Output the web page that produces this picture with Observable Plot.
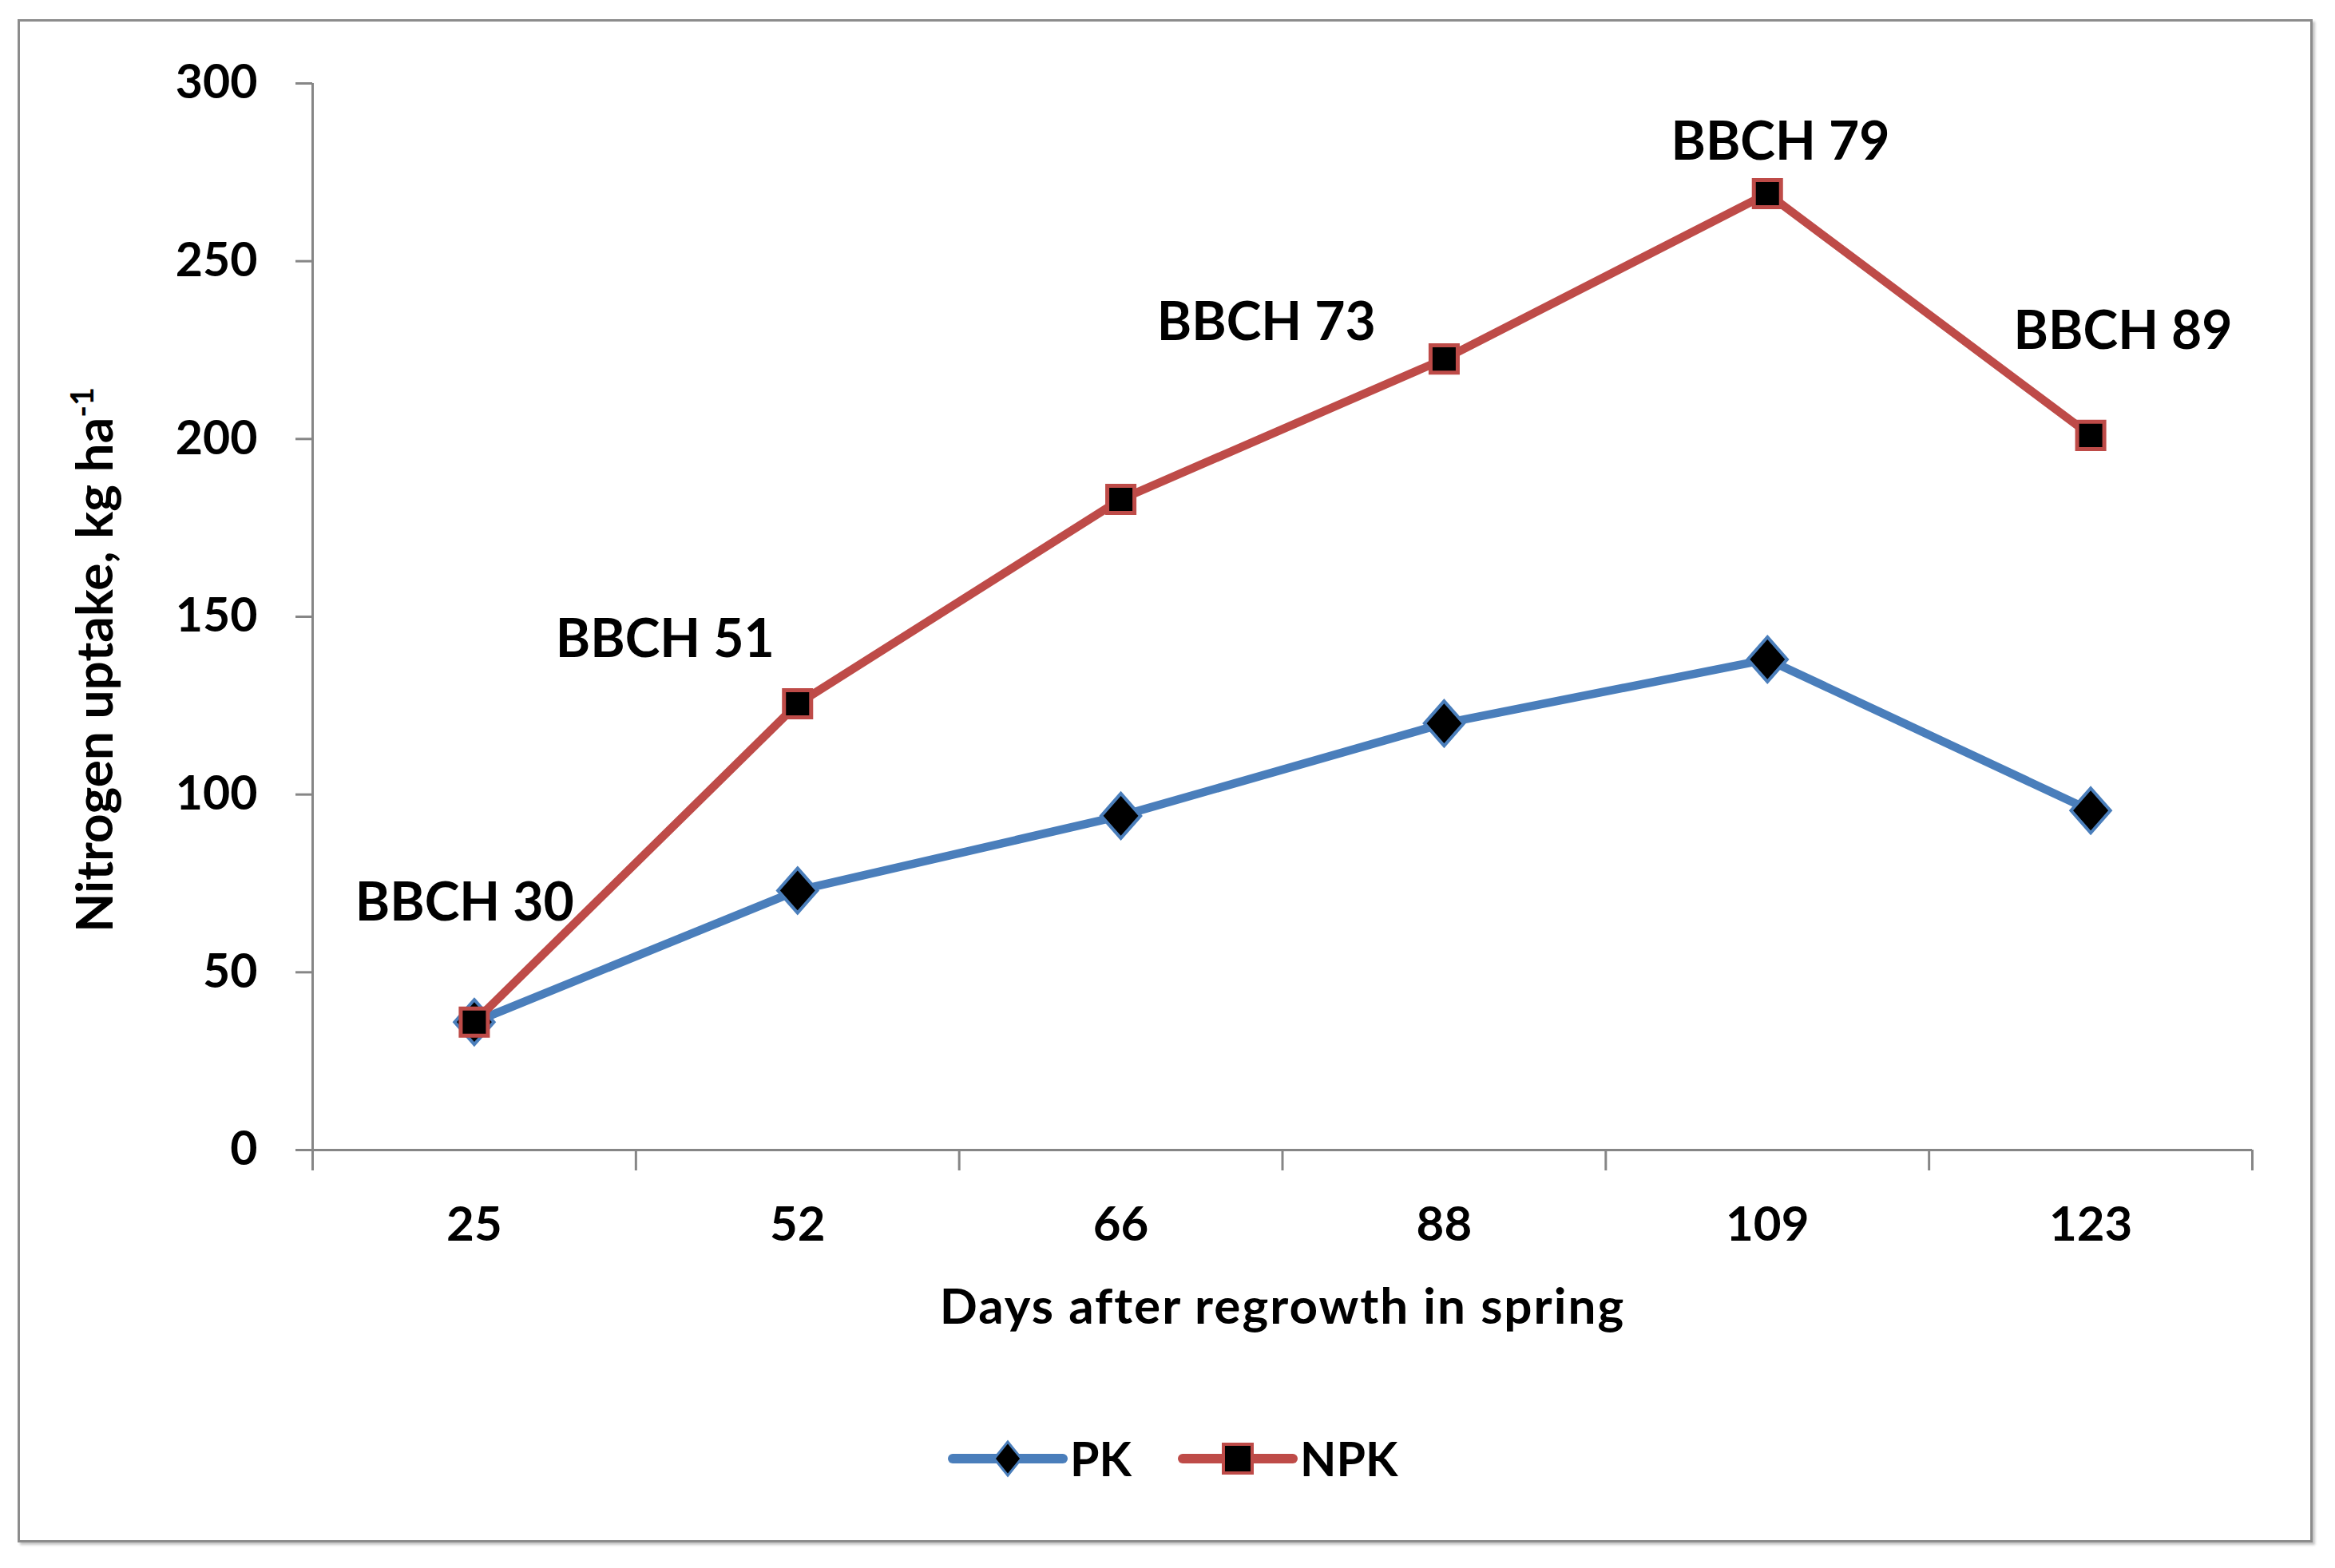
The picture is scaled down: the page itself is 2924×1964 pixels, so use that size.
<!DOCTYPE html>
<html><head><meta charset="utf-8">
<script src="https://cdn.jsdelivr.net/npm/d3@7"></script>
<script src="https://cdn.jsdelivr.net/npm/@observablehq/plot@0.6"></script>
<style>
body{margin:0;background:#fff;}
#wrap{position:relative;width:2924px;height:1964px;overflow:hidden;background:#fff;font-family:Lato,"Open Sans",sans-serif;font-weight:bold;}
#frame{position:absolute;left:22px;top:24px;width:2874px;height:1908px;border:3px solid #8c8c8c;box-sizing:border-box;box-shadow:3px 3px 3px #c4c4c4;}
#chart{position:absolute;left:0;top:0;}
#legend{position:absolute;left:1187px;top:1797px;height:60px;display:flex;align-items:center;font-size:59px;color:#000;}
#legend .item{display:flex;align-items:center;}
#legend .lab{margin-left:3px;line-height:60px;}
</style></head><body>
<div id="wrap">
  <div id="frame"></div>
  <div id="chart"></div>
  <div id="legend"></div>
</div>
<script>
// ---- data ----
const days = ["25", "52", "66", "88", "109", "123"];
const pk = [36, 73, 94, 120, 138, 95.5];
const npk = [36, 125.5, 183, 222.5, 269, 201];
const yTicks = [0, 50, 100, 150, 200, 250, 300];
const stages = ["BBCH 30", "BBCH 51", "BBCH 73", "BBCH 79", "BBCH 89"];
const stageX = [-0.03, 0.59, 2.45, 4.04, 5.10];   // category-index units
const stageY = [69.4, 143.5, 232.5, 283.4, 230];  // value units
const seriesNames = ["PK", "NPK"];
const xTitle = "Days after regrowth in spring";
const yTitle = "Nitrogen uptake, kg ha";
const yTitleSup = "-1";

// ---- derived tables ----
const rows = days.map((d, i) => ({i, day: d, pk: pk[i], npk: npk[i]}));
const stageRows = stages.map((s, k) => ({s, x: stageX[k], y: stageY[k]}));
const idx = d3.range(days.length);
const bounds = d3.range(days.length + 1).map(k => k - 0.5);

const blue = "#4A7EBB", red = "#BE4B48", axisGray = "#868686";
const tallDiamond = {
  draw(ctx, size) {
    const r = Math.sqrt(size / Math.PI);
    const w = r * 0.88, h = r;
    ctx.moveTo(0, -h); ctx.lineTo(w, 0); ctx.lineTo(0, h); ctx.lineTo(-w, 0); ctx.closePath();
  }
};

const chart = Plot.plot({
  width: 2924,
  height: 1720,
  marginLeft: 391,
  marginRight: 104,
  marginTop: 104,
  marginBottom: 280,
  style: {fontFamily: "Lato, 'Open Sans', sans-serif", fontWeight: "bold", color: "#000", background: "transparent", overflow: "visible"},
  x: {type: "linear", domain: [-0.5, days.length - 0.5]},
  y: {domain: [0, 300]},
  marks: [
    Plot.ruleY([0], {stroke: axisGray, strokeWidth: 3}),
    Plot.ruleX([-0.5], {y1: 0, y2: 300, stroke: axisGray, strokeWidth: 3}),
    Plot.axisY(yTicks, {tickSize: 21, tickPadding: 48, fontSize: 59, stroke: axisGray, strokeWidth: 3, label: null}),
    Plot.axisX(bounds, {tickSize: 26, tickFormat: () => "", stroke: axisGray, strokeWidth: 3, label: null}),
    Plot.axisX(idx, {tickSize: 0, tickPadding: 71, fontSize: 60, tickFormat: i => days[i], label: null}),
    Plot.line(rows, {x: "i", y: "pk", stroke: blue, strokeWidth: 10.5, strokeLinejoin: "round"}),
    Plot.dot(rows, {x: "i", y: "pk", symbol: tallDiamond, r: 28, fill: "#000", stroke: blue, strokeWidth: 4}),
    Plot.line(rows, {x: "i", y: "npk", stroke: red, strokeWidth: 10.5, strokeLinejoin: "round"}),
    Plot.dot(rows, {x: "i", y: "npk", symbol: "square", r: 19.2, fill: "#000", stroke: red, strokeWidth: 5}),
    Plot.text(stageRows, {x: "x", y: "y", text: "s", fontSize: 66, lineAnchor: "middle", fill: "#000"}),
    Plot.text([xTitle], {frameAnchor: "bottom", textAnchor: "middle", dy: 198, fontSize: 62, lineAnchor: "middle", fill: "#000"}),
    Plot.text([yTitle], {frameAnchor: "left", textAnchor: "middle", rotate: -90, dx: -271, dy: 54, fontSize: 64, lineAnchor: "middle", fill: "#000"})
  ]
});
document.getElementById("chart").appendChild(chart);

// letter spacing on the x title (Calibri-like width)
d3.select(chart).selectAll("text")
  .filter(function () { return this.textContent === xTitle; })
  .attr("letter-spacing", "2px");

// superscript on y title
d3.select(chart).selectAll("text")
  .filter(function () { return this.textContent === yTitle; })
  .append("tspan").attr("dy", "-0.6em").attr("font-size", "0.62em").text(yTitleSup);

// ---- legend ----
const legend = d3.select("#legend");
seriesNames.forEach((name, k) => {
  const item = legend.append("div").attr("class", "item").style("margin-left", k ? "58px" : "0px");
  const svg = item.append("svg").attr("width", 150).attr("height", 60);
  const col = k ? red : blue;
  svg.append("line").attr("x1", 6).attr("x2", 144).attr("y1", 30).attr("y2", 30)
    .attr("stroke", col).attr("stroke-width", 12).attr("stroke-linecap", "round");
  if (k === 0) {
    svg.append("path").attr("d", "M75,9 L92,30 L75,51 L58,30 Z").attr("fill", "#000").attr("stroke", col).attr("stroke-width", 3);
  } else {
    svg.append("rect").attr("x", 57).attr("y", 12).attr("width", 36).attr("height", 36)
      .attr("fill", "#000").attr("stroke", col).attr("stroke-width", 4);
  }
  item.append("span").attr("class", "lab").text(name);
});
</script>
</body></html>
